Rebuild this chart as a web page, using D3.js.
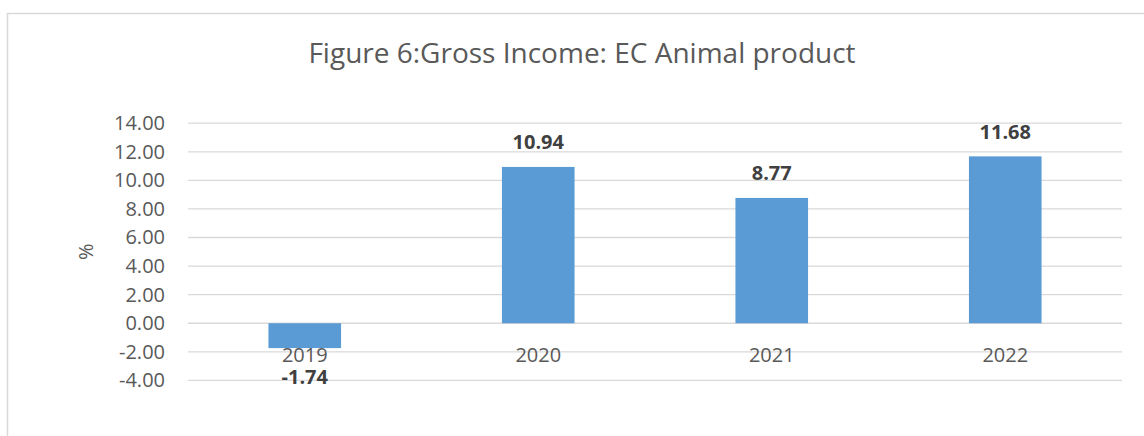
<!DOCTYPE html>
<html>
<head>
<meta charset="utf-8">
<script src="https://cdn.jsdelivr.net/npm/d3@7"></script>
<style>
  html, body { margin: 0; padding: 0; background: #fff; }
  svg { display: block; }
  text { font-family: "Open Sans", sans-serif; }
</style>
</head>
<body>
<svg id="chart" width="1144" height="436"></svg>
<script>
const categories = ["2019", "2020", "2021", "2022"];
const values = [-1.74, 10.94, 8.77, 11.68];
const valueLabels = ["-1.74", "10.94", "8.77", "11.68"];
const yTicks = [-4, -2, 0, 2, 4, 6, 8, 10, 12, 14];
const titleText = "Figure 6:Gross Income: EC Animal product";
const yAxisTitle = "%";

const svg = d3.select("#chart");
const margin = { left: 188, right: 1122, top: 123.2, bottom: 380.4 };

// outer chart border
svg.append("rect")
  .attr("x", 7.5).attr("y", 13.5)
  .attr("width", 1150).attr("height", 440)
  .attr("fill", "none").attr("stroke", "#d9d9d9").attr("stroke-width", 1.5);

const x = d3.scaleBand().domain(categories).range([margin.left, margin.right]).padding(0);
const y = d3.scaleLinear().domain([-4, 14]).range([margin.bottom, margin.top]);

// gridlines
svg.append("g").selectAll("line").data(yTicks).join("line")
  .attr("x1", margin.left).attr("x2", margin.right)
  .attr("y1", d => y(d)).attr("y2", d => y(d))
  .attr("stroke", "#d9d9d9").attr("stroke-width", 1.3);

// y axis labels
const fmt = d3.format(".2f");
const yAxis = d3.axisLeft(y).tickValues(yTicks)
  .tickFormat(d => fmt(d).replace("\u2212", "-"))
  .tickSize(0).tickPadding(0);
const yg = svg.append("g").attr("transform", `translate(165,0)`).call(yAxis);
yg.select(".domain").remove();
yg.selectAll("text").attr("fill", "#595959").style("font-size", "20px").style("font-family", "'Open Sans', sans-serif");

// bars
const barW = x.bandwidth() * 0.311;
svg.append("g").selectAll("rect").data(values).join("rect")
  .attr("x", (d, i) => x(categories[i]) + x.bandwidth() / 2 - barW / 2)
  .attr("width", barW)
  .attr("y", d => y(Math.max(0, d)))
  .attr("height", d => Math.abs(y(d) - y(0)))
  .attr("fill", "#5b9bd5");

// category labels
svg.append("g").selectAll("text").data(categories).join("text")
  .attr("x", d => x(d) + x.bandwidth() / 2)
  .attr("y", y(0) + 39)
  .attr("text-anchor", "middle")
  .attr("fill", "#595959")
  .style("font-size", "20px")
  .text(d => d);

// value labels
svg.append("g").selectAll("text").data(values).join("text")
  .attr("x", (d, i) => x(categories[i]) + x.bandwidth() / 2)
  .attr("y", d => d >= 0 ? y(d) - 17.5 : y(d) + 35.5)
  .attr("text-anchor", "middle")
  .attr("fill", "#404040")
  .style("font-size", "20px")
  .style("font-weight", "bold")
  .text((d, i) => valueLabels[i]);

// title
svg.append("text")
  .attr("x", 582).attr("y", 63.3)
  .attr("text-anchor", "middle")
  .attr("fill", "#595959")
  .style("font-size", "28px")
  .text(titleText);

// y axis title
svg.append("text")
  .attr("transform", "translate(93,251.7) rotate(-90)")
  .attr("text-anchor", "middle")
  .attr("fill", "#595959")
  .style("font-size", "20px")
  .text(yAxisTitle);
</script>
</body>
</html>
